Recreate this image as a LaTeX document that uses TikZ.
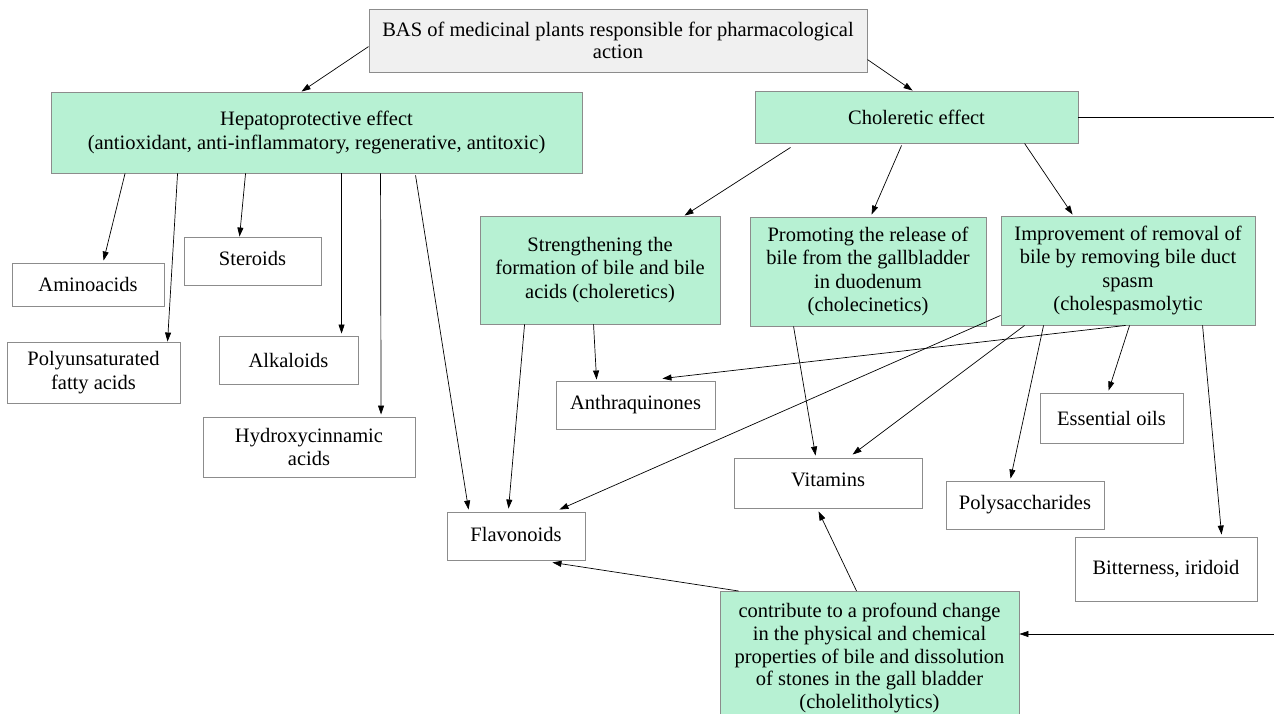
\documentclass[tikz,border=0pt]{standalone}
\usepackage{fontspec}
\setmainfont{Liberation Serif}
\usetikzlibrary{arrows.meta,calc}
\definecolor{mint}{RGB}{183,241,211}
\definecolor{boxline}{RGB}{140,140,140}
\definecolor{topfill}{RGB}{240,240,240}
\tikzset{
  base/.style={draw=boxline,line width=0.9pt,inner sep=0pt,align=center,
    font=\fontsize{20.5}{23.4}\selectfont},
  gbox/.style={base,fill=mint},
  wbox/.style={base,fill=white},
  tbox/.style={base,fill=topfill},
  conn/.style={line width=0.7pt,-{Triangle[length=9pt,width=6pt]}},
  plain/.style={line width=0.7pt}
}
\begin{document}
\begin{tikzpicture}[x=1pt,y=-1pt]
\useasboundingbox (0,0) rectangle (1274,714);
\clip (0,0) rectangle (1274,714);
% nodes
\node[tbox,minimum width=498pt,minimum height=63pt,font=\fontsize{20.5}{21.6}\selectfont] (bas) at (618,40.5) {BAS of medicinal plants responsible for pharmacological\\action};
\node[gbox,minimum width=531pt,minimum height=81pt,font=\fontsize{20.5}{24.5}\selectfont] (hep) at (316.5,132.5) {Hepatoprotective effect\\(antioxidant, anti-inflammatory, regenerative, antitoxic)};
\node[gbox,minimum width=323pt,minimum height=52pt] (chol) at (916.5,117) {Choleretic effect};
\node[gbox,minimum width=240pt,minimum height=108pt] (str) at (600,270) {\raisebox{10pt}{\parbox{240pt}{\centering Strengthening the\\formation of bile and bile\\acids (choleretics)}}};
\node[gbox,minimum width=236pt,minimum height=109pt] (pro) at (868,271.5) {Promoting the release of\\bile from the gallbladder\\in duodenum\\(cholecinetics)};
\node[gbox,minimum width=254pt,minimum height=109pt] (imp) at (1128,270.5) {Improvement of removal of\\bile by removing bile duct\\spasm\\(cholespasmolytic};
\node[wbox,minimum width=152pt,minimum height=43pt] (amino) at (88,284.5) {Aminoacids};
\node[wbox,minimum width=137pt,minimum height=48pt] (ster) at (252.5,261) {\raisebox{5pt}{Steroids}};
\node[wbox,minimum width=173pt,minimum height=61pt] (poly) at (93.5,372.5) {Polyunsaturated\\fatty acids};
\node[wbox,minimum width=139pt,minimum height=48pt] (alk) at (288.5,360) {Alkaloids};
\node[wbox,minimum width=212pt,minimum height=60pt] (hyd) at (309,447) {Hydroxycinnamic\\acids};
\node[wbox,minimum width=159pt,minimum height=48pt] (anth) at (635.5,405) {\raisebox{4pt}{Anthraquinones}};
\node[wbox,minimum width=143pt,minimum height=50pt] (ess) at (1111.5,418) {Essential oils};
\node[wbox,minimum width=188pt,minimum height=50pt] (vit) at (828,483) {\raisebox{6pt}{Vitamins}};
\node[wbox,minimum width=158pt,minimum height=48pt] (polys) at (1025,505) {Polysaccharides};
\node[wbox,minimum width=138pt,minimum height=48pt] (flav) at (516,536) {\raisebox{3pt}{Flavonoids}};
\node[wbox,minimum width=182pt,minimum height=64pt] (bit) at (1166,569) {Bitterness, iridoid};
\node[gbox,anchor=north,minimum width=299pt,inner ysep=12pt,font=\fontsize{20.5}{22.6}\selectfont] (con) at (869.5,591) {contribute to a profound change\\in the physical and chemical\\properties of bile and dissolution\\of stones in the gall bladder\\(cholelitholytics)};
% free ends at the right edge
\coordinate (edgeA) at (1274,118);
\coordinate (edgeB) at (1274,634);
% connectors
\draw[conn] ($(bas.north west)+(0,38)$) -- ($(hep.north west)+(251,0)$);
\draw[conn] ($(bas.north east)+(0,51)$) -- ($(chol.north west)+(158,0)$);
\draw[conn] ($(hep.south west)+(74.5,0)$) -- ($(amino.north west)+(92,-2)$);
\draw[conn] ($(hep.south west)+(127,0)$) -- ($(poly.north west)+(161,0)$);
\draw[conn] ($(hep.south west)+(195,0)$) -- ($(ster.north west)+(56,0)$);
\draw[conn] ($(hep.south west)+(291,0)$) -- ($(alk.north west)+(123,-2)$);
\draw[conn] ($(hep.south west)+(330,0)$) -- ($(hyd.north west)+(178.5,-2)$);
\draw[conn] ($(hep.south west)+(365,2)$) -- ($(flav.north west)+(22,-2)$);
\draw[conn] ($(chol.south west)+(36,4)$) -- ($(str.north west)+(205,0)$);
\draw[conn] ($(chol.south west)+(147,2)$) -- ($(pro.north west)+(122,-2)$);
\draw[conn] ($(chol.south west)+(270,0)$) -- ($(imp.north west)+(72,-1)$);
\draw[conn] ($(str.south west)+(45,0)$) -- ($(flav.north west)+(62,-3)$);
\draw[conn] ($(str.south west)+(114,0)$) -- ($(anth.north west)+(41,-1)$);
\draw[conn] ($(pro.south west)+(44,0)$) -- ($(vit.north west)+(82,-2)$);
\draw[conn] ($(imp.south west)+(0,-10)$) -- ($(flav.north east)+(-26,-2)$);
\draw[conn] ($(imp.south west)+(24,0)$) -- ($(vit.north west)+(119,-3)$);
\draw[conn] ($(imp.south west)+(125,0)$) -- ($(anth.north east)+(-53,-2)$);
\draw[conn] ($(imp.south west)+(43,0)$) -- ($(polys.north west)+(65,-2)$);
\draw[conn] ($(imp.south west)+(129,0)$) -- ($(ess.north west)+(69,-2)$);
\draw[conn] ($(imp.south west)+(202,0)$) -- ($(bit.north west)+(147,-2)$);
\draw[conn] ($(con.north west)+(19,0)$) -- ($(flav.south east)+(-33,2)$);
\draw[conn] ($(con.north west)+(137,0)$) -- ($(vit.south west)+(85,3)$);
\draw[plain] (chol.east) -- (chol.east -| edgeA);
\draw[conn] (edgeB) -- (edgeB -| con.east);
\end{tikzpicture}
\end{document}
